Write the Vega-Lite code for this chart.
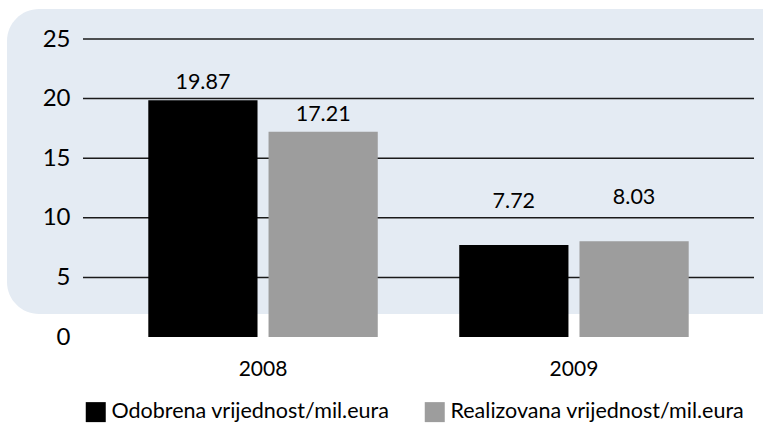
{
  "$schema": "https://vega.github.io/schema/vega-lite/v6.json",
  "width": 671,
  "height": 298,
  "autosize": {"type": "none"},
  "padding": {"left": 83, "top": 39, "right": 9, "bottom": 88},
  "background": "white",
  "config": {"view": {"stroke": null}, "font": "Lato"},
  "data": {
    "values": [
      {"year": "2008", "series": "Odobrena vrijednost/mil.eura", "value": 19.87},
      {"year": "2008", "series": "Realizovana vrijednost/mil.eura", "value": 17.21},
      {"year": "2009", "series": "Odobrena vrijednost/mil.eura", "value": 7.72},
      {"year": "2009", "series": "Realizovana vrijednost/mil.eura", "value": 8.03}
    ]
  },
  "layer": [
    {
      "data": {"values": [{}]},
      "mark": {"type": "rect", "fill": "#e4ebf3", "cornerRadius": 32},
      "encoding": {
        "x": {"value": -76},
        "x2": {"value": 720},
        "y": {"value": -30},
        "y2": {"value": 275}
      }
    },
    {
      "data": {"values": [{"tick": 5}, {"tick": 10}, {"tick": 15}, {"tick": 20}, {"tick": 25}]},
      "mark": {"type": "rule", "color": "#1a1a1a", "strokeWidth": 1.5},
      "encoding": {
        "y": {"field": "tick", "type": "quantitative"}
      }
    },
    {
      "mark": {"type": "bar"},
      "encoding": {
        "x": {
          "field": "year",
          "type": "nominal",
          "scale": {"paddingInner": 0.262, "paddingOuter": 0.21},
          "axis": {
            "title": null,
            "domain": false,
            "ticks": false,
            "labelAngle": 0,
            "labelFontSize": 21,
            "labelColor": "#000000",
            "labelPadding": 21
          }
        },
        "xOffset": {
          "field": "series",
          "type": "nominal",
          "scale": {"paddingInner": 0.0917, "paddingOuter": 0}
        },
        "y": {
          "field": "value",
          "type": "quantitative",
          "scale": {"domain": [0, 25], "nice": false},
          "axis": {
            "title": null,
            "domain": false,
            "ticks": false,
            "grid": false,
            "zindex": 1,
            "values": [0, 5, 10, 15, 20, 25],
            "labelFontSize": 24,
            "labelColor": "#000000",
            "labelPadding": 13
          }
        },
        "color": {
          "field": "series",
          "type": "nominal",
          "scale": {
            "domain": ["Odobrena vrijednost/mil.eura", "Realizovana vrijednost/mil.eura"],
            "range": ["#000000", "#9d9d9d"]
          },
          "legend": {
            "title": null,
            "orient": "none",
            "direction": "horizontal",
            "legendX": 2,
            "legendY": 362,
            "symbolType": "square",
            "symbolSize": 400,
            "symbolStrokeWidth": 0,
            "symbolOpacity": 1,
            "labelFontSize": 21.5,
            "labelColor": "#000000",
            "labelOffset": 5,
            "columnPadding": 34,
            "labelLimit": 400
          }
        }
      }
    },
    {
      "transform": [{"filter": "datum.year == '2008'"}],
      "mark": {"type": "text", "baseline": "alphabetic", "dy": -11, "fontSize": 21.5, "color": "#000000"},
      "encoding": {
        "x": {"field": "year", "type": "nominal"},
        "xOffset": {"field": "series", "type": "nominal"},
        "y": {"field": "value", "type": "quantitative"},
        "text": {"field": "value", "type": "quantitative", "format": ".2f"}
      }
    },
    {
      "transform": [{"filter": "datum.year == '2009'"}],
      "mark": {"type": "text", "baseline": "alphabetic", "dy": -37, "fontSize": 21.5, "color": "#000000"},
      "encoding": {
        "x": {"field": "year", "type": "nominal"},
        "xOffset": {"field": "series", "type": "nominal"},
        "y": {"field": "value", "type": "quantitative"},
        "text": {"field": "value", "type": "quantitative", "format": ".2f"}
      }
    }
  ]
}
